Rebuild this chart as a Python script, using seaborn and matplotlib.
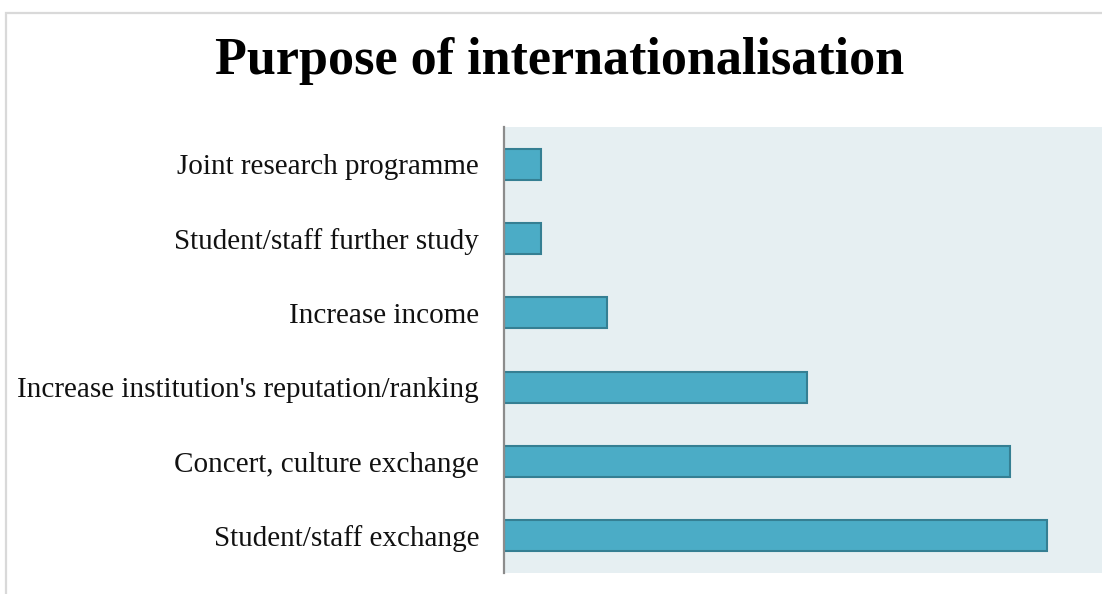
import matplotlib
matplotlib.use("Agg")
import matplotlib.pyplot as plt
import seaborn as sns
import pandas as pd
from matplotlib.patches import Rectangle

purposes = [
    "Joint research programme",
    "Student/staff further study",
    "Increase income",
    "Increase institution's reputation/ranking",
    "Concert, culture exchange",
    "Student/staff exchange",
]
responses = [1.0, 1.0, 2.8, 8.2, 13.7, 14.7]

df = pd.DataFrame({"purpose": purposes, "responses": responses})

sns.set_theme(style="white")
plt.rcParams["font.family"] = ["Liberation Serif", "DejaVu Serif"]

W, H = 1102, 594
fig = plt.figure(figsize=(W / 100, H / 100), dpi=100)
fig.patch.set_facecolor("white")

# light outer frame
fig.add_artist(Rectangle((5.5 / W, -0.05), 1.2, 1 - 12.5 / H + 0.05,
                         transform=fig.transFigure, fill=False,
                         edgecolor="#d9d9d9", linewidth=1.6))

ax = fig.add_axes([504 / W, 1 - 573 / H, 1 - 504 / W, (573 - 127) / H])
ax.set_facecolor("#e6eff2")

sns.barplot(data=df, x="responses", y="purpose", order=purposes,
            color="#4bacc6", saturation=1, width=0.42,
            edgecolor="#357f93", linewidth=1.5, ax=ax)

ax.set_xlim(0, 16.2)
ax.set_xlabel("")
ax.set_ylabel("")
ax.set_xticks([])
for s in ["top", "right", "bottom"]:
    ax.spines[s].set_visible(False)
ax.spines["left"].set_color("#8c8c8c")
ax.spines["left"].set_linewidth(1.6)
ax.tick_params(axis="y", length=0, pad=18, labelsize=21, labelcolor="#111111")

fig.text(560 / W, 1 - 61 / H, "Purpose of internationalisation",
         ha="center", va="center", fontsize=37.5, fontweight="bold",
         color="black")

fig.savefig("out.png", dpi=100)
